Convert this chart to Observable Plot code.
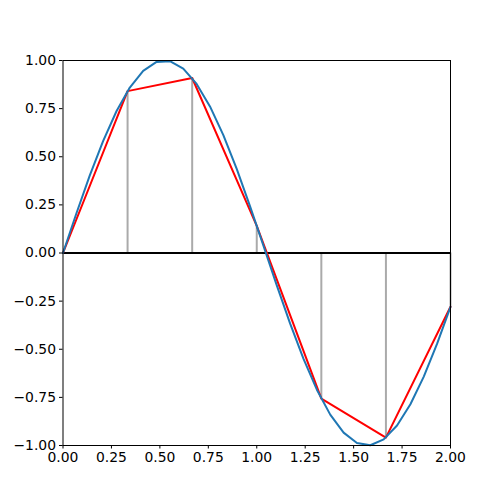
<!DOCTYPE html>
<html>
<head>
<meta charset="utf-8">
<script src="https://cdn.jsdelivr.net/npm/d3@7"></script>
<script src="https://cdn.jsdelivr.net/npm/@observablehq/plot@0.6"></script>
<style>
  html, body { margin: 0; padding: 0; background: #fff; }
  #chart svg { display: block; }
</style>
</head>
<body>
<div id="chart"></div>
<script>
// Blue curve samples
const curveX = [0, 0.0690, 0.1379, 0.2069, 0.2759, 0.3448, 0.4138, 0.4828, 0.5517, 0.6207,
  0.6897, 0.7586, 0.8276, 0.8966, 0.9655, 1.0345, 1.1034, 1.1724, 1.2414, 1.3103,
  1.3793, 1.4483, 1.5172, 1.5862, 1.6552, 1.7241, 1.7931, 1.8621, 1.9310, 2.0];
const curveY = [0, 0.2054, 0.4021, 0.5816, 0.7362, 0.8596, 0.9462, 0.9925, 0.9964, 0.9579,
  0.8784, 0.7616, 0.6125, 0.4367, 0.2426, 0.0382, -0.1679, -0.3669, -0.5501, -0.7100,
  -0.8395, -0.9333, -0.9871, -0.9989, -0.9681, -0.8960, -0.7858, -0.6419, -0.4708, -0.2794];

// Red coarse samples
const sampleX = [0, 0.3333, 0.6667, 1.0, 1.3333, 1.6667, 2.0];
const sampleY = [0, 0.841, 0.909, 0.141, -0.757, -0.959, -0.279];

// Ticks
const xTicks = [0, 0.25, 0.5, 0.75, 1.0, 1.25, 1.5, 1.75, 2.0];
const yTicks = [-1, -0.75, -0.5, -0.25, 0, 0.25, 0.5, 0.75, 1.0];

const curve = curveX.map((x, i) => ({x, y: curveY[i]}));
const samples = sampleX.map((x, i) => ({x, y: sampleY[i]}));

const fmt = d3.format(".2f");

const chart = Plot.plot({
  width: 500,
  height: 500,
  marginLeft: 62.5,
  marginRight: 50,
  marginTop: 60,
  marginBottom: 55,
  style: {fontFamily: "DejaVu Sans", fontSize: "13.9px", color: "black", background: "white"},
  x: {domain: [0, 2], ticks: xTicks, tickFormat: fmt, tickSize: 3.5, tickPadding: 3.5, label: null},
  y: {domain: [-1, 1], ticks: yTicks, tickFormat: fmt, tickSize: 3.5, tickPadding: 3.5, label: null},
  marks: [
    Plot.ruleX(samples, {x: "x", y1: 0, y2: "y", stroke: "#aaaaaa", strokeWidth: 2}),
    Plot.ruleY([0], {x1: 0, x2: 2, stroke: "black", strokeWidth: 2}),
    Plot.line(samples, {x: "x", y: "y", stroke: "red", strokeWidth: 2}),
    Plot.line(curve, {x: "x", y: "y", stroke: "#1f77b4", strokeWidth: 2}),
    Plot.frame({stroke: "black", strokeWidth: 1}),
    Plot.axisX({ticks: xTicks, tickFormat: fmt, tickSize: 3.5, tickPadding: 3.5, label: null, fontSize: "13.9px"}),
    Plot.axisY({ticks: yTicks, tickFormat: fmt, tickSize: 3.5, tickPadding: 3.5, label: null, fontSize: "13.9px"})
  ]
});
document.getElementById("chart").appendChild(chart);
</script>
</body>
</html>
